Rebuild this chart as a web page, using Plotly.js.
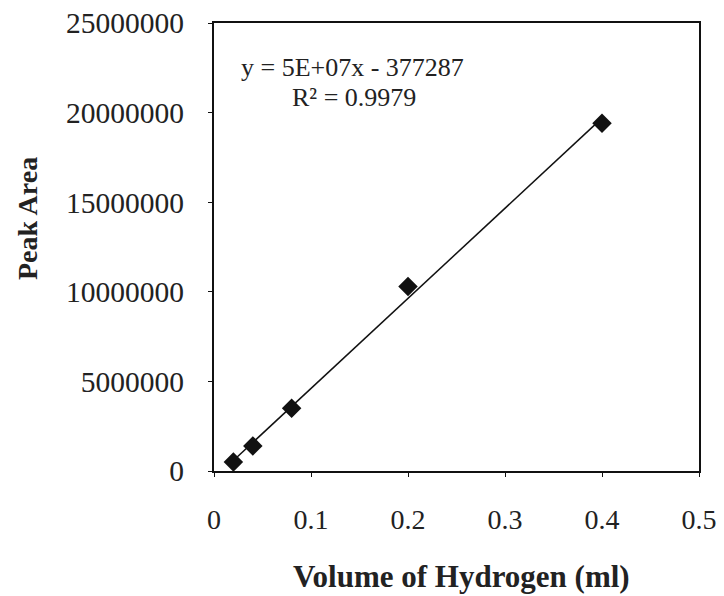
<!DOCTYPE html>
<html>
<head>
<meta charset="utf-8">
<script src="https://cdn.plot.ly/plotly-3.0.1.min.js"></script>
<style>html,body{margin:0;padding:0;background:#fff;}#chart{width:724px;height:596px;}</style>
</head>
<body>
<div id="chart"></div>
<script>
// Data
const volumeMl = [0.02, 0.04, 0.08, 0.2, 0.4];
const peakArea = [500000, 1400000, 3500000, 10300000, 19400000];
const xTickVals = [0, 0.1, 0.2, 0.3, 0.4, 0.5];
const xTickText = ["0", "0.1", "0.2", "0.3", "0.4", "0.5"];
const yTickVals = [0, 5000000, 10000000, 15000000, 20000000, 25000000];
const yTickText = ["0", "5000000", "10000000", "15000000", "20000000", "25000000"];
const xTitle = "Volume of Hydrogen (ml)";
const yTitle = "Peak Area";
const equationText = "y = 5E+07x - 377287";
const r2Text = "R² = 0.9979";

// least-squares trendline through the data
const n = volumeMl.length;
const mx = volumeMl.reduce((a, b) => a + b, 0) / n;
const my = peakArea.reduce((a, b) => a + b, 0) / n;
let sxy = 0, sxx = 0;
for (let i = 0; i < n; i++) { sxy += (volumeMl[i] - mx) * (peakArea[i] - my); sxx += (volumeMl[i] - mx) ** 2; }
const slope = sxy / sxx, intercept = my - slope * mx;
const trendX = [Math.min(...volumeMl), Math.max(...volumeMl)];
const trendY = trendX.map(x => slope * x + intercept);

const font = "'Liberation Serif', 'Times New Roman', serif";
const data = [
  {x: trendX, y: trendY, mode: "lines", line: {color: "#111", width: 1.5}, hoverinfo: "skip", showlegend: false},
  {x: volumeMl, y: peakArea, mode: "markers", marker: {symbol: "diamond", size: 15, color: "#111"}, showlegend: false}
];
const layout = {
  width: 724, height: 596,
  margin: {l: 214, r: 25, t: 23, b: 125},
  paper_bgcolor: "#fff", plot_bgcolor: "#fff",
  font: {family: font, color: "#222", size: 29},
  xaxis: {
    range: [0, 0.5], tickvals: xTickVals, ticktext: xTickText,
    showgrid: false, zeroline: false, showline: true, mirror: true, linecolor: "#111", linewidth: 2,
    ticks: "outside", ticklen: 4, tickcolor: "#111", tickfont: {family: font, size: 28, color: "#222"},
    ticklabelstandoff: 18
  },
  yaxis: {
    range: [0, 25000000], tickvals: yTickVals, ticktext: yTickText,
    showgrid: false, zeroline: false, showline: true, mirror: true, linecolor: "#111", linewidth: 2,
    ticks: "outside", ticklen: 4, tickcolor: "#111", tickfont: {family: font, size: 29.5, color: "#222"},
    ticklabelstandoff: 18
  },
  annotations: [
    {xref: "paper", yref: "paper", x: 0.285, y: 0.9, text: equationText, showarrow: false, font: {family: font, size: 26, color: "#222"}, xanchor: "center", yanchor: "middle"},
    {xref: "paper", yref: "paper", x: 0.289, y: 0.833, text: r2Text, showarrow: false, font: {family: font, size: 26, color: "#222"}, xanchor: "center", yanchor: "middle"},
    {xref: "paper", yref: "paper", x: 461 / 724, y: 1 - 576 / 596, text: "<b>" + xTitle + "</b>", showarrow: false, font: {family: font, size: 31, color: "#222"}, xanchor: "center", yanchor: "middle"},
    {xref: "paper", yref: "paper", x: 27 / 724, y: 1 - 219 / 596, text: "<b>" + yTitle + "</b>", textangle: -90, showarrow: false, font: {family: font, size: 28, color: "#222"}, xanchor: "center", yanchor: "middle"}
  ]
};
// annotations above use paper coords across the full figure
layout.annotations.slice(2).forEach(a => { a.xref = "paper"; a.yref = "paper"; });
Plotly.newPlot("chart", data, layout, {displayModeBar: false, staticPlot: true}).then(() => {
  // convert full-figure fractions to plot-area paper fractions
  const l = 214, r = 25, t = 23, b = 125, W = 724, H = 596;
  const pw = W - l - r, ph = H - t - b;
  const ann = layout.annotations.map((a, i) => {
    if (i < 2) return a;
    const px = a.x * W, py = (1 - a.y) * H;
    return Object.assign({}, a, {x: (px - l) / pw, y: 1 - (py - t) / ph});
  });
  return Plotly.relayout("chart", {annotations: ann});
});
</script>
</body>
</html>
